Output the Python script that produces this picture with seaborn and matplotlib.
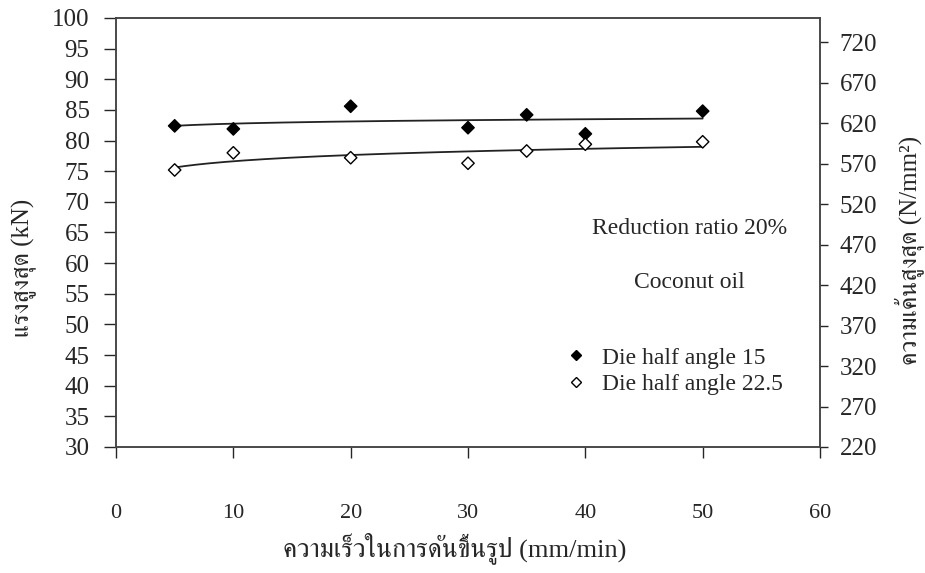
import numpy as np
import pandas as pd
import seaborn as sns
import matplotlib.pyplot as plt
from matplotlib import font_manager, ft2font

# data
speed = [5, 10, 20, 30, 35, 40, 50]
force_15 = [82.4, 81.9, 85.6, 82.1, 84.2, 81.1, 84.8]
force_225 = [75.2, 78.0, 77.2, 76.3, 78.3, 79.4, 79.8]
labels = ['Die half angle 15', 'Die half angle 22.5']
left_ticks = list(range(30, 101, 5))
right_ticks = list(range(220, 721, 50))
x_ticks = list(range(0, 61, 10))

# find a font that has Thai glyphs (prefer a serif one)
thai_fonts = []
for f in font_manager.fontManager.ttflist:
    try:
        if 0x0E04 in ft2font.FT2Font(f.fname).get_charmap():
            thai_fonts.append(f.name)
    except Exception:
        pass
thai_fonts.sort(key=lambda n: 'Serif' not in n)
thai_font = thai_fonts[0] if thai_fonts else None

sns.set_style('ticks')
plt.rcParams['font.family'] = ['Liberation Serif', 'DejaVu Serif']
thai_family = ['Liberation Serif', thai_font] if thai_font else ['Liberation Serif']

df = pd.DataFrame({
    'speed': speed * 2,
    'force': force_15 + force_225,
    'series': [labels[0]] * len(speed) + [labels[1]] * len(speed),
})

# logarithmic trend lines
xs = np.linspace(min(speed), max(speed), 200)
trend = []
for lab, ys in zip(labels, [force_15, force_225]):
    b, a = np.polyfit(np.log(speed), ys, 1)
    trend.append(pd.DataFrame({'speed': xs, 'force': a + b * np.log(xs), 'series': lab}))
trend = pd.concat(trend)

fig = plt.figure(figsize=(9.25, 5.73), dpi=100)
ax = fig.add_axes([0.1254, 0.2199, 0.7611, 0.7487])

sns.lineplot(data=trend, x='speed', y='force', units='series', estimator=None,
             color='#222222', lw=1.3, ax=ax, legend=False)
sns.scatterplot(data=df, x='speed', y='force', hue='series', style='series',
                markers={labels[0]: 'D', labels[1]: 'D'},
                palette={labels[0]: 'black', labels[1]: 'white'},
                edgecolor='black', linewidth=1.0, s=40, ax=ax, legend=False, zorder=3)

ax.set_xlim(0, 60)
ax.set_ylim(30, 100)
ax.set_xticks(x_ticks)
ax.set_yticks(left_ticks)
ax.tick_params(axis='x', direction='out', length=8, pad=33, labelsize=16, width=1)
ax.tick_params(axis='y', direction='out', length=9, pad=10, labelsize=18, width=1)
for s in ax.spines.values():
    s.set_color('#444444')
    s.set_linewidth(1.1)

ax2 = ax.twinx()
ax2.set_ylim(220, 750)
ax2.set_yticks(right_ticks)
ax2.tick_params(axis='y', direction='out', length=6, pad=8, labelsize=18, width=1)
for s in ax2.spines.values():
    s.set_color('#444444')
    s.set_linewidth(1.1)

ax.set_xlabel('ความเร็วในการดันขึ้นรูป (mm/min)', family=thai_family, fontsize=19)
ax.set_ylabel('แรงสูงสุด (kN)', family=thai_family, fontsize=18)
ax2.set_ylabel('ความเค้นสูงสุด (N/mm²)', family=thai_family, fontsize=18)
ax.xaxis.set_label_coords(0.4815, -0.199)
ax.yaxis.set_label_coords(-0.112, 0.417)
ax2.yaxis.set_label_coords(1.105, 0.459)

ax.text(48.9, 65.7, 'Reduction ratio 20%', ha='center', va='center', fontsize=17)
ax.text(48.9, 56.9, 'Coconut oil', ha='center', va='center', fontsize=17)

handles = [
    plt.Line2D([], [], ls='none', marker='D', ms=5, mfc='black', mec='black'),
    plt.Line2D([], [], ls='none', marker='D', ms=5, mfc='white', mec='black'),
]
ax.legend(handles, labels, loc='upper left', bbox_to_anchor=(0.626, 0.255), frameon=False,
          fontsize=17, handlelength=0.8, handletextpad=0.7, labelspacing=0.2, borderaxespad=0)

fig.savefig('out.png', dpi=100)
